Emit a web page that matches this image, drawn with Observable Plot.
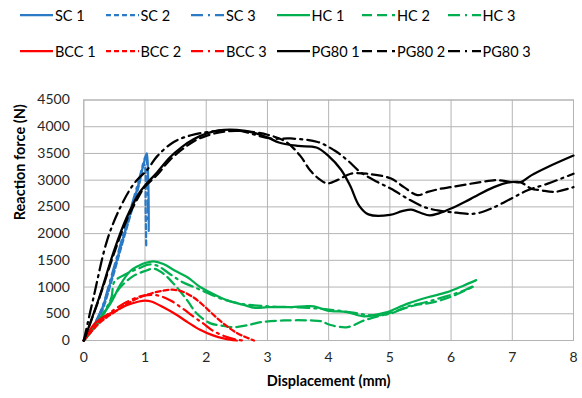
<!DOCTYPE html>
<html><head><meta charset="utf-8">
<script src="https://cdn.jsdelivr.net/npm/d3@7"></script>
<script src="https://cdn.jsdelivr.net/npm/@observablehq/plot@0.6"></script>
<style>
body{margin:0;background:#fff;font-family:Lato,"Open Sans",sans-serif;}
#legend{position:relative;width:582px;height:70px;}
.item{position:absolute;display:flex;align-items:center;font-size:14.5px;color:#000;white-space:nowrap;height:16px;}
.item svg{margin-right:2px;}
</style></head><body>
<div id="legend"></div><div id="chart"></div>
<script>
// ---- data: [displacement (mm), reaction force (N)] ----
const SC1 = [[0,0],[0.15,250],[0.3,600],[0.45,1150],[0.6,1750],[0.75,2350],[0.9,2950],[1.0,3400],[1.03,3500],[1.05,3100],[1.06,2500],[1.06,2050]];
const SC2 = [[0,0],[0.15,230],[0.3,560],[0.45,1100],[0.6,1700],[0.75,2300],[0.9,2900],[0.98,3300],[1.0,3250],[1.01,2500],[1.02,1750]];
const SC3 = [[0,0],[0.15,260],[0.3,620],[0.45,1200],[0.6,1800],[0.75,2400],[0.9,3000],[1.0,3420],[1.02,3450],[1.04,2800],[1.05,2200]];
const HC1 = [[0,0],[0.15,220],[0.27,420],[0.44,700],[0.6,1050],[0.76,1300],[0.9,1400],[1.0,1450],[1.14,1480],[1.3,1430],[1.5,1300],[1.7,1180],[1.9,1000],[2.1,880],[2.35,750],[2.6,670],[2.8,610],[3.0,625],[3.4,625],[3.6,640],[3.76,640],[3.98,560],[4.3,530],[4.58,450],[4.8,490],[4.96,530],[5.29,690],[5.62,810],[5.94,905],[6.21,1030],[6.41,1130]];
const HC2 = [[0,0],[0.15,200],[0.3,450],[0.45,750],[0.6,1000],[0.8,1200],[1.0,1300],[1.14,1343],[1.3,1250],[1.47,1060],[1.69,750],[1.85,500],[2.07,320],[2.24,280],[2.45,250],[2.73,300],[2.89,343],[3.27,375],[3.71,375],[3.87,362],[4.03,290],[4.31,250],[4.58,375],[4.96,500],[5.4,655],[5.72,717],[6.05,843],[6.35,1000]];
const HC3 = [[0,0],[0.15,240],[0.3,480],[0.45,800],[0.5,1100],[0.7,1250],[0.9,1350],[1.05,1420],[1.2,1400],[1.4,1250],[1.6,1100],[1.8,1000],[2.0,900],[2.3,760],[2.6,680],[3.0,640],[3.5,620],[4.0,580],[4.4,520],[4.7,470],[5.0,500],[5.3,640],[5.6,720],[5.9,820],[6.2,930],[6.35,1010]];
const BCC1 = [[0,0],[0.1,200],[0.2,340],[0.35,460],[0.5,540],[0.7,660],[0.9,730],[1.0,745],[1.1,730],[1.3,620],[1.5,490],[1.7,340],[1.9,200],[2.1,100],[2.3,35],[2.5,0]];
const BCC2 = [[0,0],[0.15,200],[0.3,370],[0.5,530],[0.7,680],[0.9,800],[1.1,880],[1.3,935],[1.45,950],[1.6,920],[1.8,800],[1.95,660],[2.1,500],[2.3,300],[2.5,140],[2.65,60],[2.78,0]];
const BCC3 = [[0,0],[0.15,220],[0.3,400],[0.5,580],[0.7,720],[0.9,820],[1.0,845],[1.2,845],[1.4,760],[1.6,610],[1.8,440],[1.95,320],[2.1,190],[2.3,80],[2.5,15],[2.6,0]];
const PG80_1 = [[0,0],[0.25,800],[0.5,1700],[0.7,2300],[0.9,2750],[1.0,2900],[1.2,3150],[1.4,3420],[1.6,3620],[1.8,3770],[2.0,3870],[2.2,3930],[2.5,3940],[2.8,3880],[3.0,3800],[3.2,3700],[3.5,3640],[3.8,3610],[4.0,3450],[4.2,3200],[4.35,2900],[4.5,2520],[4.65,2360],[5.0,2350],[5.2,2420],[5.35,2450],[5.5,2390],[5.65,2340],[5.8,2380],[6.0,2470],[6.32,2650],[6.7,2870],[6.98,2965],[7.14,2965],[7.31,3090],[7.58,3246],[8.0,3460]];
const PG80_2 = [[0,0],[0.25,780],[0.5,1650],[0.7,2250],[0.9,2700],[1.0,2880],[1.2,3100],[1.4,3370],[1.6,3570],[1.8,3730],[2.0,3830],[2.3,3910],[2.6,3920],[3.0,3850],[3.3,3720],[3.54,3450],[3.7,3180],[3.87,3000],[3.98,2940],[4.14,3000],[4.36,3120],[4.63,3120],[5.02,3030],[5.23,2870],[5.45,2720],[5.62,2780],[5.83,2840],[6.0,2870],[6.49,2965],[6.76,3000],[6.98,2965],[7.14,2960],[7.31,2840],[7.47,2810],[7.69,2780],[8.0,2870]];
const PG80_3 = [[0,0],[0.16,810],[0.38,1870],[0.6,2500],[0.82,2935],[1.04,3200],[1.2,3450],[1.47,3715],[1.75,3840],[2.02,3900],[2.5,3930],[3.05,3780],[3.38,3780],[3.82,3715],[4.09,3560],[4.31,3370],[4.52,3150],[4.8,2965],[5.02,2840],[5.29,2654],[5.56,2497],[5.78,2435],[6.0,2403],[6.38,2372],[6.65,2466],[6.98,2654],[7.25,2810],[7.58,2935],[8.0,3120]];

const seriesNames = ["SC 1","SC 2","SC 3","HC 1","HC 2","HC 3","BCC 1","BCC 2","BCC 3","PG80 1","PG80 2","PG80 3"];
const seriesData = [SC1,SC2,SC3,HC1,HC2,HC3,BCC1,BCC2,BCC3,PG80_1,PG80_2,PG80_3];
const xTicks = [0,1,2,3,4,5,6,7,8];
const yTicks = [0,500,1000,1500,2000,2500,3000,3500,4000,4500];
const xTitle = "Displacement (mm)";
const yTitle = "Reaction force (N)";

// ---- styles ----
const groupColor = {SC:"#2a7ac6", HC:"#00b050", BCC:"#ff0000", PG80:"#000000"};
const dashes = {solid:null, dash:"5,3", longDash:"10,5", longDashDot:"12,5,2,5"};
function styleOf(name){
  const [g,n] = name.split(" ");
  let dash = dashes.solid;
  if (n==="2") dash = (g==="SC"||g==="BCC") ? dashes.dash : dashes.longDash;
  if (n==="3") dash = dashes.longDashDot;
  return {color: groupColor[g], dash};
}

// ---- legend ----
const legend = document.getElementById("legend");
seriesNames.forEach((name,i)=>{
  const {color,dash} = styleOf(name);
  const row = Math.floor(i/6), col = i%6;
  const el = document.createElement("div");
  el.className = "item";
  el.style.left = (20 + col*85.5) + "px";
  el.style.top = (7 + row*36) + "px";
  const sw = 33;
  el.innerHTML = `<svg width="${sw}" height="16"><line x1="0" y1="8" x2="${sw}" y2="8" stroke="${color}" stroke-width="2.25" ${dash?`stroke-dasharray="${dash}"`:""}/></svg><span>${name}</span>`;
  legend.appendChild(el);
});

// ---- chart ----
const gridColor = "#b4b4b4";
const lineMarks = seriesNames.map((name,i)=>{
  const {color,dash} = styleOf(name);
  return Plot.line(seriesData[i], {x:d=>d[0], y:d=>d[1], stroke:color, strokeWidth:2.25, strokeDasharray:dash, curve:"catmull-rom"});
});
const chart = Plot.plot({
  width:582, height:328,
  marginTop:29.5, marginBottom:58, marginLeft:83.3, marginRight:9,
  x:{domain:[0,8]}, y:{domain:[0,4500]},
  style:{fontFamily:"Lato, 'Open Sans', sans-serif", fontSize:"14px", color:"#262626", background:"#fff"},
  marks:[
    Plot.gridX(xTicks, {stroke:gridColor, strokeOpacity:1}),
    Plot.gridY(yTicks, {stroke:gridColor, strokeOpacity:1}),
    Plot.frame({stroke:gridColor}),
    ...lineMarks,
    Plot.axisX(xTicks, {tickSize:0, tickPadding:12, label:null, fontSize:14, tickFormat:d=>String(d)}),
    Plot.axisY(yTicks, {tickSize:0, tickPadding:14, label:null, fontSize:14, tickFormat:d=>String(d)}),
    Plot.text([xTitle], {text:d=>d, frameAnchor:"bottom", dy:45, fontWeight:"bold", fontSize:14.5, fill:"#000"}),
    Plot.text([yTitle], {text:d=>d, frameAnchor:"left", rotate:-90, dx:-63, fontWeight:"bold", fontSize:14.5, fill:"#000"})
  ]
});
document.getElementById("chart").appendChild(chart);
</script>
</body></html>
